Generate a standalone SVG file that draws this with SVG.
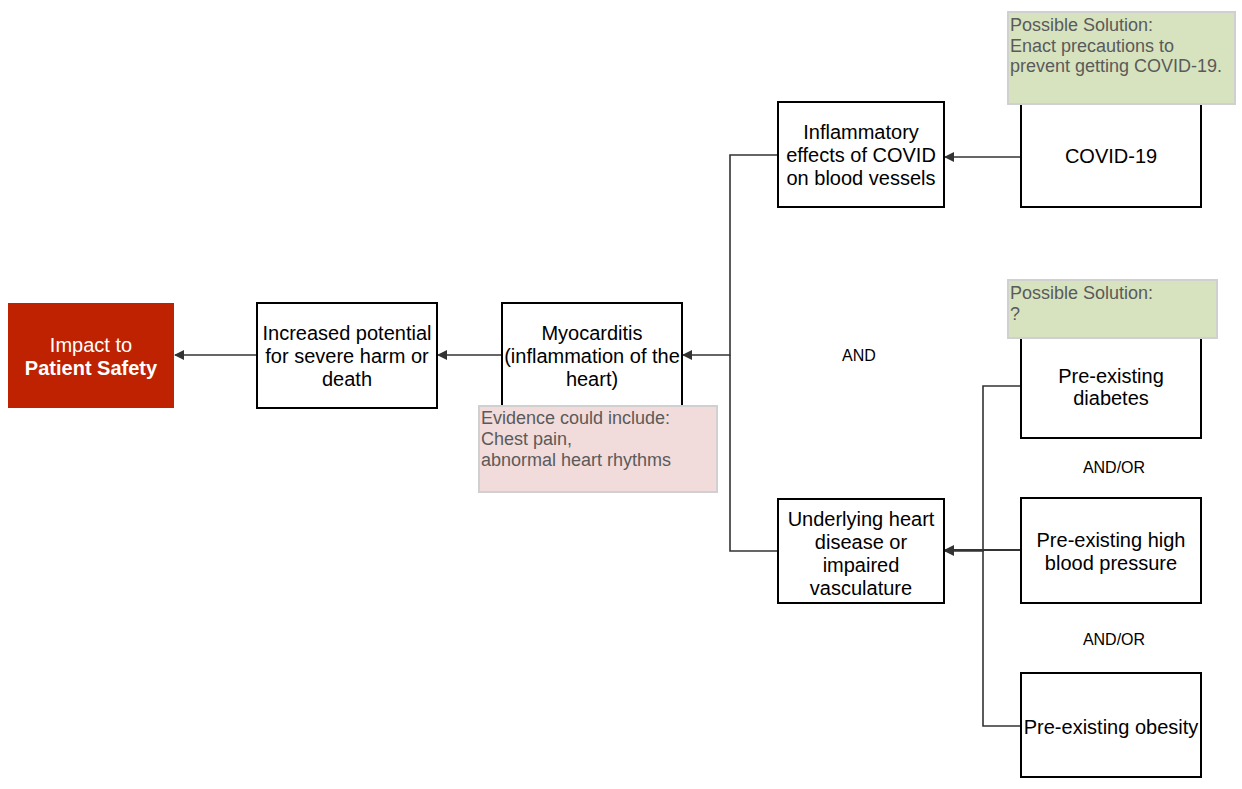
<svg xmlns="http://www.w3.org/2000/svg" width="1242" height="789" viewBox="0 0 1242 789">
<style>
.box{fill:#fff;stroke:#000;stroke-width:2}
.t{font-family:"Liberation Sans",Arial,sans-serif;font-size:20px;fill:#000;text-anchor:middle}
.lbl{font-family:"Liberation Sans",Arial,sans-serif;font-size:16px;fill:#000;text-anchor:middle}
.note{font-family:"Liberation Sans",Arial,sans-serif;font-size:18px;fill:#5a5a5a}
.green{fill:#d7e3bf;stroke:#d0d0d0;stroke-width:2}
.pink{fill:#f2dcdb;stroke:#d0d0d0;stroke-width:2}
.c{fill:none;stroke:#333;stroke-width:1.6}
</style>
<defs>
<marker id="arr" markerWidth="10" markerHeight="10" refX="9" refY="5" orient="auto" markerUnits="userSpaceOnUse">
<path d="M0,0 L10,5 L0,10 Z" fill="#333"/>
</marker>
</defs>
<rect width="1242" height="789" fill="#fff"/>
<g id="connectors">
<path class="c" d="M257,355 L175,355" marker-end="url(#arr)"/>
<path class="c" d="M502,355 L438,355" marker-end="url(#arr)"/>
<path class="c" d="M778,155 L730,155 L730,355 L683,355" marker-end="url(#arr)"/>
<path class="c" d="M778,551 L730,551 L730,355"/>
<path class="c" d="M1021,157 L945,157" marker-end="url(#arr)"/>
<path class="c" d="M1021,386 L983,386 L983,551 L945,551" marker-end="url(#arr)"/>
<path class="c" d="M1021,550 L945,550" marker-end="url(#arr)" style="stroke-width:2.2"/>
<path class="c" d="M1021,726 L983,726 L983,551"/>
</g>
<g id="impact">
<rect x="8" y="303" width="166" height="105" fill="#bf2200"/>
<text class="t" x="91" y="352" style="fill:#fff">Impact to</text>
<text class="t" x="91" y="375" style="fill:#fff;font-weight:bold">Patient Safety</text>
</g>
<g id="increased">
<rect class="box" x="257" y="303" width="180" height="105"/>
<text class="t" x="347" y="340">Increased potential</text>
<text class="t" x="347" y="363">for severe harm or</text>
<text class="t" x="347" y="386">death</text>
</g>
<g id="myocarditis">
<rect class="box" x="502" y="303" width="180" height="105"/>
<text class="t" x="592" y="340">Myocarditis</text>
<text class="t" x="592" y="363">(inflammation of the</text>
<text class="t" x="592" y="386">heart)</text>
</g>
<g id="evidence">
<rect class="pink" x="479" y="406" width="238" height="86"/>
<text class="note" x="481" y="424">Evidence could include:</text>
<text class="note" x="481" y="445">Chest pain,</text>
<text class="note" x="481" y="466">abnormal heart rhythms</text>
</g>
<g id="inflammatory">
<rect class="box" x="778" y="102" width="166" height="105"/>
<text class="t" x="861" y="139">Inflammatory</text>
<text class="t" x="861" y="162">effects of COVID</text>
<text class="t" x="861" y="185">on blood vessels</text>
</g>
<g id="covid">
<rect class="box" x="1021" y="102" width="180" height="105"/>
<text class="t" x="1111" y="163">COVID-19</text>
</g>
<g id="solution1">
<rect class="green" x="1008" y="12" width="227" height="92"/>
<text class="note" x="1010" y="31">Possible Solution:</text>
<text class="note" x="1010" y="52">Enact precautions to</text>
<text class="note" x="1010" y="72">prevent getting COVID-19.</text>
</g>
<g id="and-label">
<text class="lbl" x="859" y="361">AND</text>
</g>
<g id="diabetes">
<rect class="box" x="1021" y="335" width="180" height="103"/>
<text class="t" x="1111" y="383">Pre-existing</text>
<text class="t" x="1111" y="405">diabetes</text>
</g>
<g id="solution2">
<rect class="green" x="1008" y="280" width="209" height="58"/>
<text class="note" x="1010" y="299">Possible Solution:</text>
<text class="note" x="1010" y="320">?</text>
</g>
<g id="andor1">
<text class="lbl" x="1114" y="473">AND/OR</text>
</g>
<g id="underlying">
<rect class="box" x="778" y="499" width="166" height="104"/>
<text class="t" x="861" y="526">Underlying heart</text>
<text class="t" x="861" y="549">disease or</text>
<text class="t" x="861" y="572">impaired</text>
<text class="t" x="861" y="595">vasculature</text>
</g>
<g id="bp">
<rect class="box" x="1021" y="498" width="180" height="105"/>
<text class="t" x="1111" y="547">Pre-existing high</text>
<text class="t" x="1111" y="570">blood pressure</text>
</g>
<g id="andor2">
<text class="lbl" x="1114" y="645">AND/OR</text>
</g>
<g id="obesity">
<rect class="box" x="1021" y="673" width="180" height="104"/>
<text class="t" x="1111" y="734">Pre-existing obesity</text>
</g>
</svg>
